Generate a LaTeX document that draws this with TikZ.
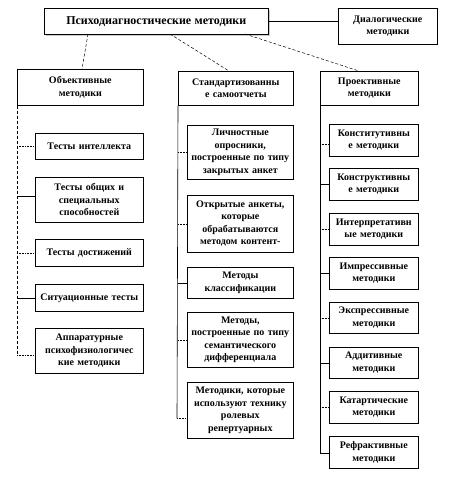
\documentclass[tikz,border=0pt]{standalone}
\usepackage{fontspec}
\setmainfont{Liberation Serif}
\begin{document}
\begin{tikzpicture}[x=1pt,y=-1pt,
  box/.style={draw=black, fill=white, line width=0.6pt, inner xsep=0pt, inner ysep=1pt,
    align=center, anchor=north west, font=\bfseries\fontsize{10}{12.5}\selectfont},
  solidc/.style={draw=black, line width=0.6pt},
  dotc/.style={draw=black, line width=0.6pt, densely dotted},
  dashc/.style={draw=black, line width=0.5pt, densely dashed}]
\newcommand\bx[6]{\pgfmathsetmacro\bxw{#4-#2}\pgfmathsetmacro\bxh{#5-#3}\pgfmathsetmacro\bxt{#4-#2}%
  \node[box,minimum width=\bxw pt,minimum height=\bxh pt,text width=\bxt pt] (#1) at (#2,#3) {#6};}
\fill[white] (0,0) rectangle (453,489);
\useasboundingbox (0,0) rectangle (453,489);
% top
\fill[gray!40] (46,10) rectangle (270,36);
\bx{top}{44}{8}{268}{34}{\fontsize{12}{14}\selectfont Психодиагностические методики}
\bx{dial}{338}{8}{437}{44}{Диалогические\\методики}
\draw[solidc] (top.east) -- (dial.west |- top.east);
% column heads
\bx{obj}{17}{69}{143}{105}{Объективные\\методики}
\bx{std}{178}{71}{293}{105}{Стандартизованны\\е самоотчеты}
\bx{proj}{320}{71}{418}{105}{Проективные\\методики}
\coordinate (c1) at (88,34); \coordinate (c1e) at (82,69);
\coordinate (c2) at (170,34); \coordinate (c2e) at (229,71);
\coordinate (c3) at (245,34); \coordinate (c3e) at (359,71);
\draw[dashc] (c1) -- (c1e);
\draw[dashc] (c2) -- (c2e);
\draw[dashc] (c3) -- (c3e);
% left column
\bx{o1}{35}{133}{143}{159}{Тесты интеллекта}
\bx{o2}{35}{177}{143}{222}{Тесты общих и\\специальных\\способностей}
\bx{o3}{35}{239}{143}{266}{Тесты достижений}
\bx{o4}{35}{284}{143}{311}{Ситуационные тесты}
\bx{o5}{35}{328}{143}{373}{Аппаратурные\\психофизиологичес\\кие методики}
\coordinate (o5c) at (17,355);
\draw[dashc] (obj.south west) -- (o5c);
\draw[dotc] (o1.west -| obj.west) -- (o1.west);
\draw[solidc] ([yshift=4pt]o2.west -| obj.west) -- ([yshift=4pt]o2.west);
\draw[dotc] (o3.west -| obj.west) -- (o3.west);
\draw[solidc] (o4.west -| obj.west) -- (o4.west);
\draw[dotc] (o5c) -- (o5c -| o5.west);
% middle column
\bx{s1}{187}{125}{293}{179}{Личностные\\опросники,\\построенные по типу\\закрытых анкет}
\bx{s2}{187}{195}{293}{252}{Открытые анкеты,\\которые\\обрабатываются\\методом контент-}
\bx{s3}{187}{267}{293}{298}{Методы\\классификации}
\bx{s4}{187}{312}{293}{367}{Методы,\\построенные по типу\\семантического\\дифференциала}
\bx{s5}{187}{382}{293}{438}{Методики, которые\\используют технику\\ролевых\\репертуарных}
\coordinate (s5c) at (177,418);
\draw[solidc] (std.south west) -- (s5c);
\draw[dotc] (s1.west -| std.west) -- (s1.west);
\draw[dotc] (s2.west -| std.west) -- (s2.west);
\draw[solidc] (s3.west -| std.west) -- (s3.west);
\draw[dotc] (s4.west -| std.west) -- (s4.west);
\draw[dotc] (s5c) -- (s5c -| s5.west);
% right column
\bx{p1}{329}{124}{418}{156}{Конститутивны\\е методики}
\bx{p2}{329}{168}{418}{200}{Конструктивны\\е методики}
\bx{p3}{329}{213}{418}{245}{Интерпретативн\\ые методики}
\bx{p4}{329}{257}{418}{289}{Импрессивные\\методики}
\bx{p5}{329}{302}{418}{333}{Экспрессивные\\методики}
\bx{p6}{329}{347}{418}{378}{Аддитивные\\методики}
\bx{p7}{329}{391}{418}{423}{Катартические\\методики}
\bx{p8}{329}{436}{418}{468}{Рефрактивные\\методики}
\coordinate (p8c) at (320,453);
\draw[solidc] (proj.south west) -- (p8c);
\draw[dotc] ([yshift=-4pt]p1.west -| proj.west) -- ([yshift=-4pt]p1.west);
\draw[solidc] (p2.west -| proj.west) -- (p2.west);
\draw[dotc] (p3.west -| proj.west) -- (p3.west);
\draw[solidc] (p4.west -| proj.west) -- (p4.west);
\draw[dotc] (p5.west -| proj.west) -- (p5.west);
\draw[solidc] (p6.west -| proj.west) -- (p6.west);
\draw[dotc] (p7.west -| proj.west) -- (p7.west);
\draw[solidc] (p8c) -- (p8c -| p8.west);
\end{tikzpicture}
\end{document}
